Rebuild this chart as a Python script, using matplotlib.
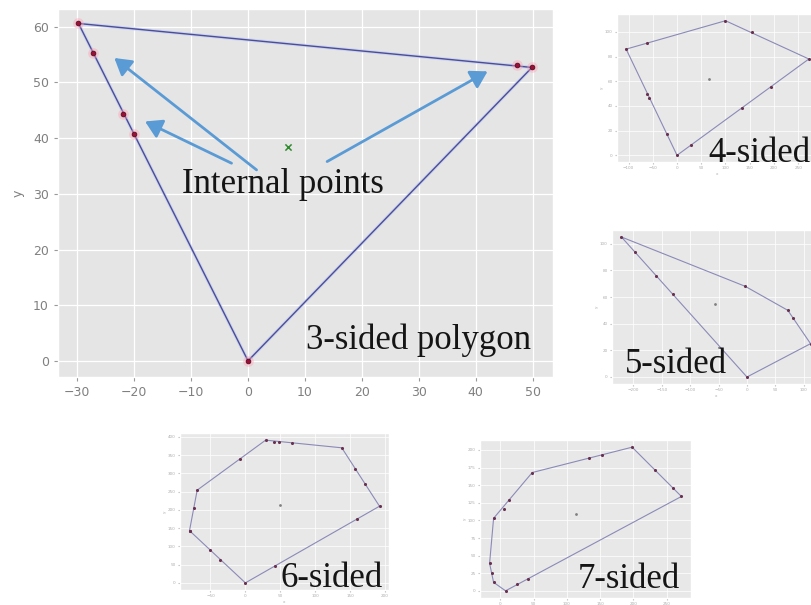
import matplotlib
matplotlib.use("Agg")
import matplotlib.pyplot as plt

# main triangle example
main_hull_x = [-29.8, 49.9, 0.0]
main_hull_y = [60.6, 52.7, 0.0]
main_edge_x = [-27.2, -21.9, -20.1, 47.3]
main_edge_y = [55.3, 44.3, 40.7, 53.1]
main_inner_x = [7.0]
main_inner_y = [38.5]
main_xticks = [-30, -20, -10, 0, 10, 20, 30, 40, 50]
main_yticks = [0, 10, 20, 30, 40, 50, 60]

# arrow tails / tips for "Internal points"
arrow_tail_x = [1.5, -2.9, 13.9]
arrow_tail_y = [34.3, 35.5, 35.8]
arrow_tip_x = [-23.5, -18.1, 42.1]
arrow_tip_y = [54.4, 43.0, 52.0]

# small insets
four_hull_x = [-105, 100, 272, 0]
four_hull_y = [86, 109, 78, 0]
four_edge_x = [-62, 155, 193, 134, 28, -21, -57, -61]
four_edge_y = [91, 100, 55, 38, 8, 17, 46, 50]
four_inner = [65, 62]
four_xticks = [-100, -50, 0, 50, 100, 150, 200, 250]
four_yticks = [0, 20, 40, 60, 80, 100]

five_hull_x = [-221, -3, 72, 112, 0]
five_hull_y = [105, 68, 50, 25, 0]
five_edge_x = [-197, -160, -131, 81]
five_edge_y = [94, 76, 62, 44]
five_inner = [-56, 55]
five_xticks = [-200, -150, -100, -50, 0, 50, 100]
five_yticks = [0, 20, 40, 60, 80, 100]

six_hull_x = [0, 192, 138, 29, -69, -80]
six_hull_y = [0, 210, 370, 391, 254, 143]
six_edge_x = [-7, 41, 48, 67, 157, 171, 160, 43, -36, -51, -79, -74]
six_edge_y = [340, 386, 385, 384, 313, 272, 175, 47, 64, 91, 141, 204]
six_inner = [50, 212]
six_xticks = [-50, 0, 50, 100, 150, 200]
six_yticks = [0, 50, 100, 150, 200, 250, 300, 350, 400]

seven_hull_x = [8, 272, 198, 48, -10, -16, -10]
seven_hull_y = [0, 134, 204, 168, 103, 39, 12]
seven_edge_x = [25, 41, 133, 153, 233, 259, 13, 5, -13]
seven_edge_y = [9, 17, 188, 193, 171, 146, 129, 116, 25]
seven_inner = [114, 109]
seven_xticks = [0, 50, 100, 150, 200, 250]
seven_yticks = [0, 25, 50, 75, 100, 125, 150, 175, 200]

plt.style.use("ggplot")
W, H = 811, 605
fig = plt.figure(figsize=(W / 100, H / 100), dpi=100)
fig.patch.set_facecolor("white")
serif = ["Liberation Serif", "DejaVu Serif"]


def rect(left, top, right, bottom):
    return [left / W, 1 - bottom / H, (right - left) / W, (bottom - top) / H]


def closed(xs, ys):
    return list(xs) + [xs[0]], list(ys) + [ys[0]]


# ---- main panel ----
ax = fig.add_axes(rect(58, 9, 553, 377))
hx, hy = closed(main_hull_x, main_hull_y)
ax.plot(hx, hy, color="#c0cdef", lw=2.4, alpha=0.7, zorder=2)
ax.plot(hx, hy, color="#4c4c98", lw=1.0, zorder=3)
px = main_hull_x + main_edge_x
py = main_hull_y + main_edge_y
ax.scatter(px, py, s=60, color="#ff9fb5", alpha=0.4, lw=0, zorder=3)
ax.scatter(px, py, s=12, color="#9c1038", edgecolor="#4a0818", lw=0.5, zorder=4)
ax.scatter(main_inner_x, main_inner_y, marker="x", s=20, color="#2e8b2e", lw=1.1, zorder=4)
for tx, ty, hx_, hy_ in zip(arrow_tail_x, arrow_tail_y, arrow_tip_x, arrow_tip_y):
    ax.annotate("", xy=(hx_, hy_), xytext=(tx, ty),
                arrowprops=dict(arrowstyle="-|>,head_length=1.0,head_width=0.6",
                                color="#5b9bd5", lw=2.0, shrinkA=0, shrinkB=0),
                zorder=5)
ax.set_xlim(-33.4, 53.6)
ax.set_ylim(-2.9, 63.2)
ax.set_xticks(main_xticks)
ax.set_yticks(main_yticks)
ax.tick_params(labelsize=9, labelcolor="#808080", color="#999999", length=3)
ax.set_ylabel("y", fontsize=9, color="#808080", labelpad=6)
ax.grid(True, color="white", lw=0.9)


def inset(r, hull_x, hull_y, edge_x, edge_y, inner, xticks, yticks, xlabel=True):
    a = fig.add_axes(rect(*r))
    cx, cy = closed(hull_x, hull_y)
    a.plot(cx, cy, color="#8a8ab8", lw=0.8, zorder=2)
    a.scatter(list(hull_x) + edge_x, list(hull_y) + edge_y, s=5,
              color="#6a3050", lw=0, zorder=3)
    a.scatter([inner[0]], [inner[1]], s=4, color="#808080", lw=0, zorder=3)
    a.set_xticks(xticks)
    a.set_yticks(yticks)
    a.tick_params(labelsize=3, labelcolor="#adadad", color="#c0c0c0",
                  length=1.5, pad=1.5)
    if xlabel:
        a.set_xlabel("x", fontsize=3, color="#adadad", labelpad=1)
    a.set_ylabel("y", fontsize=3, color="#adadad", labelpad=1)
    a.grid(True, color="white", lw=0.5)
    a.set_facecolor("#e8e8e8")
    return a


inset((617, 14, 818, 162), four_hull_x, four_hull_y, four_edge_x, four_edge_y,
      four_inner, four_xticks, four_yticks)
inset((612, 230, 820, 384), five_hull_x, five_hull_y, five_edge_x, five_edge_y,
      five_inner, five_xticks, five_yticks)
inset((180, 433, 389, 590), six_hull_x, six_hull_y, six_edge_x, six_edge_y,
      six_inner, six_xticks, six_yticks)
inset((480, 440, 691, 598), seven_hull_x, seven_hull_y, seven_edge_x, seven_edge_y,
      seven_inner, seven_xticks, seven_yticks, xlabel=False)

# ---- captions ----
labels = [("Internal points", 182, 193), ("3-sided polygon", 306, 349),
          ("4-sided", 708, 162), ("5-sided", 625, 373),
          ("6-sided", 280, 587), ("7-sided", 578, 588)]
for s, x, y in labels:
    fig.text(x / W, 1 - y / H, s, fontsize=25, family=serif, color="#151515",
             va="baseline", ha="left", zorder=10)

fig.savefig("out.png", dpi=100)
